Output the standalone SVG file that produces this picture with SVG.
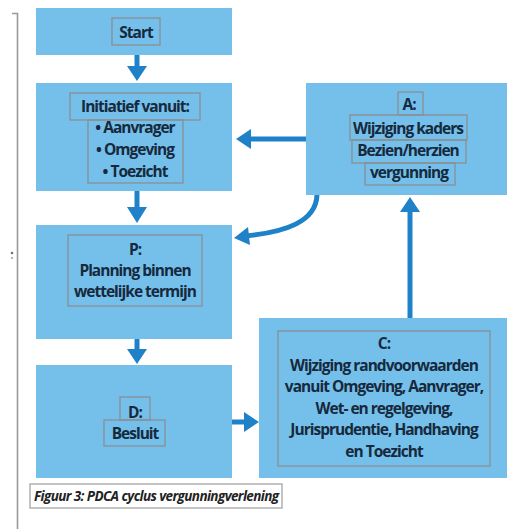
<svg xmlns="http://www.w3.org/2000/svg" width="507" height="529" viewBox="0 0 507 529">
<defs>
<style>
.box{fill:#74C0EA;}
.ib{fill:none;stroke:#8a8f94;stroke-width:1.3;}
.t{font-family:"Open Sans","Liberation Sans",sans-serif;font-size:15.5px;font-weight:700;fill:#17293d;text-anchor:middle;letter-spacing:-1px;}
.h{font-weight:700;}
.cap{font-family:"Open Sans","Liberation Sans",sans-serif;font-size:13.5px;font-style:italic;font-weight:700;fill:#222;letter-spacing:-0.6px;}
.stem{stroke:#1F82C8;stroke-width:5;fill:none;}
.head{fill:#1F82C8;}
</style>
</defs>
<rect width="507" height="529" fill="#ffffff"/>
<g id="frame">
<path d="M12 13.5 H17.5 V529" fill="none" stroke="#9a9a9a" stroke-width="1.6"/>
<circle cx="12" cy="253" r="1.3" fill="#6a7380"/>
<circle cx="12" cy="258" r="1.1" fill="#9aa3ad"/>
</g>
<g id="start">
<rect class="box" x="36" y="8" width="196" height="47"/>
<rect class="ib" x="112" y="18" width="48" height="27"/>
<text class="t h" x="136" y="38">Start</text>
</g>
<g id="initiatief">
<rect class="box" x="36" y="83" width="196" height="108"/>
<rect class="ib" x="70" y="93" width="130" height="27"/>
<rect class="ib" x="88" y="120" width="95" height="63"/>
<text class="t h" x="135" y="112">Initiatief vanuit:</text>
<text class="t" x="135" y="133">• Aanvrager</text>
<text class="t" x="135" y="155">• Omgeving</text>
<text class="t" x="135" y="177">• Toezicht</text>
</g>
<g id="plan">
<rect class="box" x="36" y="225" width="196" height="114"/>
<rect class="ib" x="68" y="235" width="134" height="71"/>
<text class="t h" x="135" y="255">P:</text>
<text class="t" x="135" y="276">Planning binnen</text>
<text class="t" x="135" y="297">wettelijke termijn</text>
</g>
<g id="do">
<rect class="box" x="36" y="365" width="196" height="113"/>
<rect class="ib" x="120" y="397" width="30" height="23"/>
<rect class="ib" x="104" y="420" width="61" height="26"/>
<text class="t h" x="135" y="418">D:</text>
<text class="t" x="135" y="439">Besluit</text>
</g>
<g id="act">
<rect class="box" x="306" y="83" width="201" height="112"/>
<rect class="ib" x="398" y="92" width="25" height="23"/>
<rect class="ib" x="350" y="115" width="117" height="25"/>
<rect class="ib" x="352" y="140" width="114" height="23"/>
<rect class="ib" x="365" y="163" width="90" height="22"/>
<text class="t h" x="409" y="110">A:</text>
<text class="t" x="408" y="134">Wijziging kaders</text>
<text class="t" x="408" y="156">Bezien/herzien</text>
<text class="t" x="409" y="178">vergunning</text>
</g>
<g id="check">
<rect class="box" x="259" y="318" width="248" height="160"/>
<rect class="ib" x="278" y="331" width="212" height="135"/>
<text class="t h" x="384" y="349">C:</text>
<text class="t" x="384" y="371">Wijziging randvoorwaarden</text>
<text class="t" x="384" y="392">vanuit Omgeving, Aanvrager,</text>
<text class="t" x="384" y="414">Wet- en regelgeving,</text>
<text class="t" x="384" y="435">Jurisprudentie, Handhaving</text>
<text class="t" x="384" y="457">en Toezicht</text>
</g>
<g id="caption">
<rect x="30" y="484" width="252" height="24" fill="#ffffff" stroke="#8a8a8a" stroke-width="1"/>
<text class="cap" x="34" y="500.5">Figuur 3: PDCA cyclus vergunningverlening</text>
</g>
<g id="connectors">
<line class="stem" x1="137" y1="55" x2="137" y2="67"/>
<polygon class="head" points="127,66 147,66 137,81"/>
<line class="stem" x1="137" y1="191" x2="137" y2="208"/>
<polygon class="head" points="127,207 147,207 137,223"/>
<line class="stem" x1="137" y1="339" x2="137" y2="350"/>
<polygon class="head" points="127,349 147,349 137,364"/>
<line class="stem" x1="306" y1="139" x2="250" y2="139"/>
<polygon class="head" points="251,129 251,149 236,139"/>
<path class="stem" d="M317 195 C 316 222, 285 232, 246 236" stroke-width="4"/>
<polygon class="head" points="248,227 250,245 234,238"/>
<line class="stem" x1="410" y1="318" x2="410" y2="210"/>
<polygon class="head" points="400,212 420,212 410,197"/>
<line class="stem" x1="232" y1="422" x2="246" y2="422"/>
<polygon class="head" points="244,412 244,432 259,422"/>
</g>
</svg>
